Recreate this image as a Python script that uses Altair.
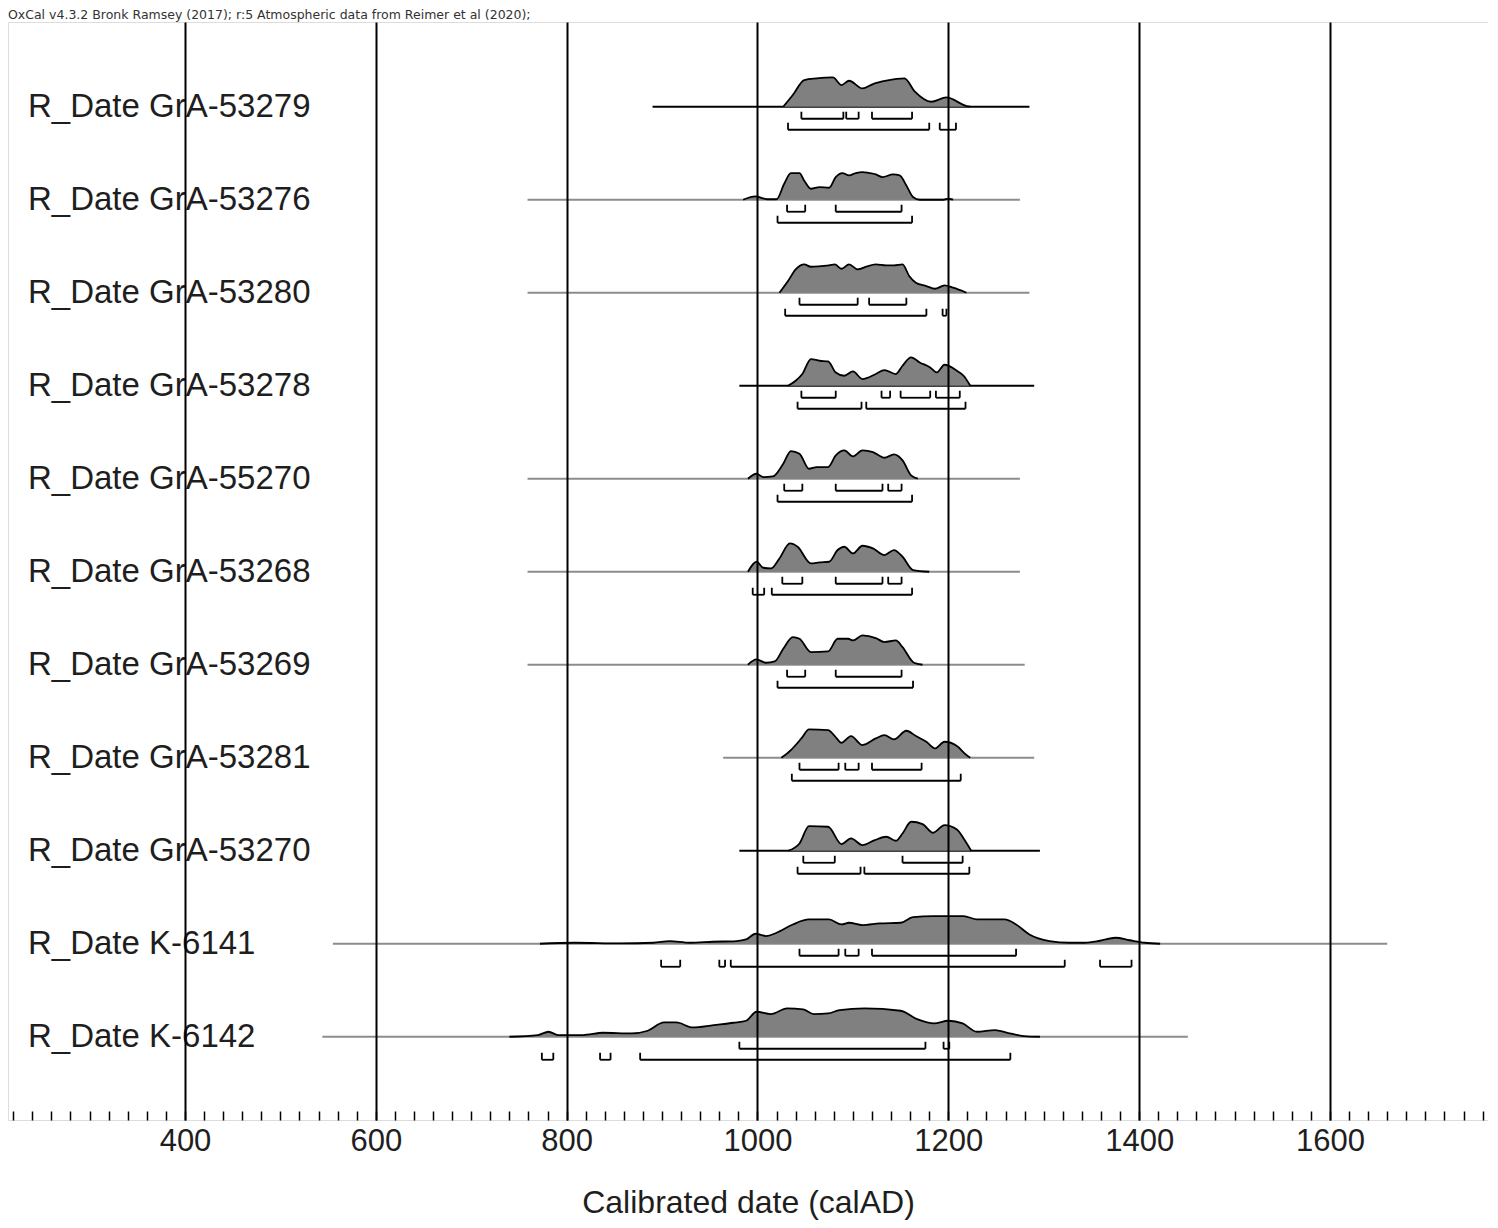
import altair as alt
import pandas as pd

# ---------------- data ----------------
TITLE = "OxCal v4.3.2 Bronk Ramsey (2017); r:5 Atmospheric data from Reimer et al (2020);"
AXIS_TITLE = "Calibrated date (calAD)"

labels = [
    "R_Date GrA-53279", "R_Date GrA-53276", "R_Date GrA-53280", "R_Date GrA-53278",
    "R_Date GrA-55270", "R_Date GrA-53268", "R_Date GrA-53269", "R_Date GrA-53281",
    "R_Date GrA-53270", "R_Date K-6141", "R_Date K-6142",
]

# extent of each horizontal line (calAD)
line_start = [890, 759, 759, 981, 759, 759, 759, 964, 981, 555, 544]
line_end = [1285, 1275, 1285, 1290, 1275, 1275, 1280, 1290, 1296, 1660, 1451]
line_dark = [True, False, False, True, False, False, False, False, True, False, False]

# calibrated probability curves (year, relative probability, modal value ~29)
yr_53279 = [1027, 1037, 1049, 1062, 1079, 1088, 1096, 1110, 1121, 1135, 1154, 1165, 1182, 1198, 1219, 1223]
pr_53279 = [0, 11.7, 26.7, 28.3, 29.3, 21.7, 26, 18.3, 22.7, 26, 28.3, 15, 5, 9.3, 0.7, 0]

yr_53276 = [985, 998, 1010, 1020, 1028, 1035, 1044, 1049, 1056, 1065, 1075, 1082, 1089, 1096, 1103, 1110,
            1117, 1124, 1131, 1142, 1149, 1156, 1163, 1170, 1195, 1200, 1205]
pr_53276 = [0, 3.3, 0.5, 0.5, 16, 26.7, 26.7, 19, 11, 12.7, 12, 22.7, 26.7, 24.3, 26.7, 27.7,
            26.7, 25.3, 22.7, 25.3, 24.3, 14.3, 2.7, 0, 0, 1, 0]

yr_53280 = [1023, 1032, 1040, 1049, 1056, 1067, 1075, 1081, 1088, 1096, 1105, 1114, 1124, 1135, 1143, 1152,
            1159, 1166, 1177, 1186, 1196, 1205, 1219]
pr_53280 = [0, 11.7, 23.3, 28.3, 26, 26.7, 27.3, 28.3, 24, 28.3, 23.3, 26, 28.3, 27.3, 27.3, 28.3,
            16.7, 10, 6.7, 4, 7.3, 5, 0]

yr_53278 = [1032, 1040, 1047, 1056, 1065, 1074, 1082, 1091, 1100, 1110, 1124, 1133, 1145, 1152, 1161, 1170,
            1181, 1188, 1196, 1209, 1216, 1223]
pr_53278 = [0, 5, 11.7, 26.7, 25, 24.3, 13.3, 10, 14.3, 6.7, 11.7, 15.7, 11.7, 20, 28.3, 23.3,
            18.3, 13.3, 21, 15, 10, 0]

yr_55270 = [990, 999, 1006, 1016, 1027, 1035, 1044, 1054, 1062, 1074, 1082, 1091, 1100, 1110, 1121, 1133,
            1143, 1152, 1161, 1168]
pr_55270 = [0, 5, 1.7, 2.3, 15, 27.7, 25, 10, 11.7, 11.7, 23.3, 28.3, 22.3, 28.3, 26.7, 21,
            24.3, 18.3, 3.3, 0]

yr_53268 = [990, 999, 1006, 1014, 1023, 1034, 1042, 1056, 1065, 1075, 1084, 1091, 1100, 1110, 1121, 1133,
            1143, 1152, 1163, 1180]
pr_53268 = [0, 10, 4, 3.3, 13.3, 28.3, 25, 8.3, 9.3, 10, 21.7, 25, 18.3, 26, 23.3, 16.7,
            21.7, 15, 1.7, 0]

yr_53269 = [990, 999, 1009, 1018, 1027, 1037, 1044, 1056, 1074, 1084, 1095, 1100, 1110, 1124, 1133, 1145,
            1152, 1164, 1173]
pr_53269 = [0, 5.3, 2, 3.3, 16, 27.7, 26, 12.7, 13.3, 26, 26, 24.3, 29.3, 26.7, 22.7, 24.3,
            17.7, 2, 0]

yr_53281 = [1025, 1035, 1046, 1054, 1074, 1081, 1088, 1098, 1110, 1124, 1133, 1143, 1156, 1166, 1177, 1186,
            1196, 1209, 1219, 1223]
pr_53281 = [0, 7.7, 19.3, 28.3, 27.7, 21.7, 15, 21.7, 12.7, 19.3, 22.7, 18.3, 27, 21.7, 16, 9.3,
            16, 11.7, 2.7, 0]

yr_53270 = [1032, 1044, 1054, 1074, 1088, 1098, 1110, 1123, 1135, 1145, 1152, 1161, 1173, 1184, 1196, 1209,
            1216, 1224]
pr_53270 = [0, 7.3, 24.7, 24, 6.7, 12.3, 5.7, 10.7, 14, 10, 17.3, 29, 26.7, 18, 25.7, 21.3,
            12.3, 0]

yr_6141 = [772, 809, 856, 891, 908, 929, 953, 978, 988, 998, 1009, 1020, 1037, 1054, 1075, 1088, 1096,
           1110, 1128, 1150, 1163, 1184, 1216, 1230, 1259, 1271, 1285, 1306, 1327, 1343, 1359, 1375,
           1390, 1406, 1422]
pr_6141 = [0, 1, 0.3, 1, 2.7, 1, 2, 2.7, 4.3, 10, 7.7, 11, 19.3, 24.3, 24.3, 19.3, 21,
           18.7, 20.3, 21, 26.7, 27.7, 27.7, 24.3, 24.3, 19.3, 9.3, 2.7, 1, 1, 3, 6,
           3.5, 1, 0]

yr_6142 = [740, 770, 781, 791, 817, 838, 868, 885, 902, 915, 932, 954, 975, 988, 999, 1014, 1031, 1048,
           1059, 1074, 1086, 1112, 1150, 1168, 1185, 1200, 1215, 1230, 1249, 1262, 1279, 1296]
pr_6142 = [0, 1.7, 5, 1.7, 1.7, 4, 3.3, 6, 14.3, 14.3, 9.3, 11.7, 14, 16, 25, 22.7, 28.3, 27.3,
           22.7, 23.3, 26.7, 28.3, 26, 17.3, 13.3, 16, 13.3, 5, 6.7, 4, 0.7, 0]

curve_years = [yr_53279, yr_53276, yr_53280, yr_53278, yr_55270, yr_53268, yr_53269, yr_53281,
               yr_53270, yr_6141, yr_6142]
curve_probs = [pr_53279, pr_53276, pr_53280, pr_53278, pr_55270, pr_53268, pr_53269, pr_53281,
               pr_53270, pr_6141, pr_6142]

# 68.2% and 95.4% highest-probability ranges (calAD)
range68 = [
    [(1046, 1090), (1093, 1106), (1120, 1162)],
    [(1031, 1050), (1082, 1151)],
    [(1044, 1105), (1117, 1156)],
    [(1046, 1082), (1130, 1139), (1150, 1181), (1187, 1212)],
    [(1028, 1047), (1082, 1131), (1137, 1151)],
    [(1026, 1047), (1082, 1131), (1137, 1151)],
    [(1031, 1050), (1082, 1151)],
    [(1044, 1085), (1092, 1106), (1120, 1172)],
    [(1048, 1081), (1152, 1215)],
    [(1044, 1085), (1092, 1106), (1120, 1271)],
    [(981, 1176), (1195, 1201)],
]
range95 = [
    [(1032, 1180), (1191, 1208)],
    [(1021, 1162)],
    [(1029, 1177), (1194, 1198)],
    [(1042, 1109), (1114, 1218)],
    [(1021, 1162)],
    [(995, 1007), (1015, 1162)],
    [(1021, 1163)],
    [(1036, 1213)],
    [(1042, 1108), (1112, 1222)],
    [(899, 919), (960, 966), (972, 1322), (1359, 1392)],
    [(774, 786), (835, 846), (877, 1265)],
]

major_ticks = [400, 600, 800, 1000, 1200, 1400, 1600]
minor_ticks = list(range(220, 1761, 20))

# ---------------- layout / style ----------------
PLOT_W, PLOT_H = 1480, 1098
ROW_PX = 93.0
X_DOMAIN = [214.5, 1765.6]
Y_DOMAIN = [-0.911, 10.895]
LVL68, LVL95, TICK = 12 / ROW_PX, 23 / ROW_PX, 7 / ROW_PX
FONT = "Liberation Sans"
TXT = "#1e1e1e"

# ---------------- tables ----------------
n = len(labels)
lines = pd.DataFrame({
    "row": list(range(n)),
    "label": labels,
    "x1": line_start, "x2": line_end,
    "col": ["#000000" if d else "#8c8c8c" for d in line_dark],
})
lines["y"] = lines["row"].astype(float)

dens = []
for i, (yrs, prs) in enumerate(zip(curve_years, curve_probs)):
    for yv, pv in zip(yrs, prs):
        dens.append({"row": i, "year": yv, "p": pv, "top": i - pv / ROW_PX, "base": float(i)})
dens = pd.DataFrame(dens)

hbars, ticks = [], []
for i in range(n):
    for spans, lvl in ((range68[i], LVL68), (range95[i], LVL95)):
        for a, b in spans:
            y = i + lvl
            hbars.append({"x1": a, "x2": b, "y": y})
            ticks.append({"x": a, "y": y, "y2": y - TICK})
            ticks.append({"x": b, "y": y, "y2": y - TICK})
hbars = pd.DataFrame(hbars)
ticks = pd.DataFrame(ticks)

title_df = pd.DataFrame({"t": [TITLE]})

xs = alt.Scale(domain=X_DOMAIN, nice=False, zero=False)
ys = alt.Scale(domain=Y_DOMAIN, nice=False, zero=False, reverse=True)

x_axis = alt.Axis(
    orient="bottom", values=major_ticks, grid=True, gridColor="black", gridWidth=2,
    gridOpacity=1, ticks=False, tickSize=0, domain=False, format="d",
    labelFontSize=31, labelFont=FONT, labelColor=TXT, labelPadding=6, labelFlush=False,
    title=AXIS_TITLE, titleFontSize=32, titleFont=FONT, titleFontWeight="normal",
    titleColor=TXT, titlePadding=31, zindex=1,
)
x_minor_axis = alt.Axis(
    orient="top", offset=-PLOT_H, values=minor_ticks, labels=False, ticks=True,
    tickSize=9, tickWidth=1.5, tickColor="black", domain=False, grid=False, title=None,
    zindex=1,
)

base_lines = alt.Chart(lines).mark_rule(strokeWidth=2.2).encode(
    x=alt.X("x1:Q", scale=xs, axis=x_axis),
    x2="x2:Q",
    y=alt.Y("y:Q", scale=ys, axis=None),
    color=alt.Color("col:N", scale=None),
)

row_labels = alt.Chart(lines).mark_text(
    align="left", baseline="middle", fontSize=33, font=FONT, color=TXT
).encode(
    x=alt.value(20),
    y=alt.Y("y:Q", scale=ys, axis=None),
    text="label:N",
)

area = alt.Chart(dens).mark_area(color="#808080", opacity=1, interpolate="monotone").encode(
    x=alt.X("year:Q", scale=xs, axis=None),
    y=alt.Y("top:Q", scale=ys, axis=None),
    y2="base:Q",
    detail="row:N",
)

outline = alt.Chart(dens).mark_line(color="black", strokeWidth=1.8, interpolate="monotone").encode(
    x=alt.X("year:Q", scale=xs, axis=x_minor_axis),
    y=alt.Y("top:Q", scale=ys, axis=None),
    detail="row:N",
)

bars = alt.Chart(hbars).mark_rule(color="black", strokeWidth=1.8).encode(
    x=alt.X("x1:Q", scale=xs, axis=None),
    x2="x2:Q",
    y=alt.Y("y:Q", scale=ys, axis=None),
)

bar_ticks = alt.Chart(ticks).mark_rule(color="black", strokeWidth=1.8).encode(
    x=alt.X("x:Q", scale=xs, axis=None),
    y=alt.Y("y:Q", scale=ys, axis=None),
    y2="y2:Q",
)

top_note = alt.Chart(title_df).mark_text(
    align="left", baseline="alphabetic", fontSize=12.5, font="DejaVu Sans", color="#333333"
).encode(
    x=alt.value(0),
    y=alt.value(-3),
    text="t:N",
)

chart = (
    alt.layer(base_lines, row_labels, area, outline, bars, bar_ticks, top_note)
    .resolve_axis(x="independent")
    .properties(
        width=PLOT_W,
        height=PLOT_H,
        autosize=alt.AutoSizeParams(type="none"),
        padding={"left": 0, "top": 14, "right": 0, "bottom": 100},
    )
    .configure_view(stroke="black", strokeWidth=2)
    .configure(background="white")
)

chart.save("out.html", embed_options={"renderer": "svg", "actions": False})
